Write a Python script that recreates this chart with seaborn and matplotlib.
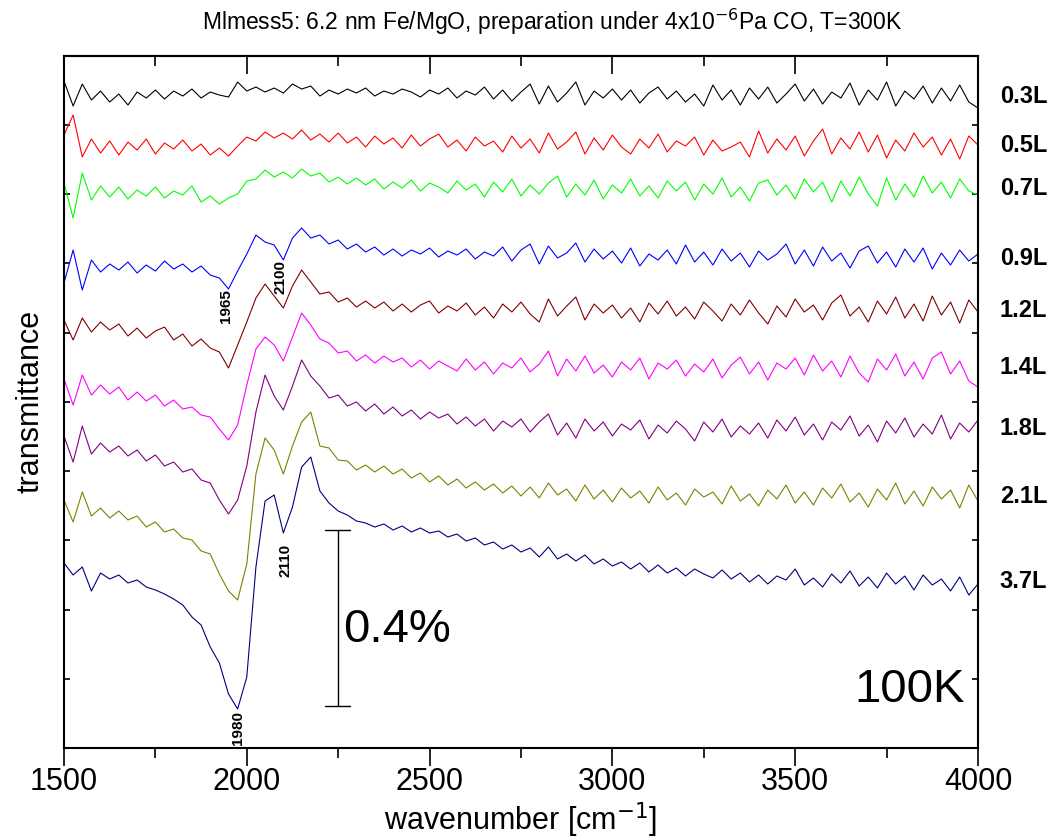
import numpy as np
import pandas as pd
import seaborn as sns
from matplotlib import pyplot as plt
from matplotlib import transforms

# wavenumber grid [cm-1], every 25 cm-1
wavenumber = np.arange(1500, 4001, 25)

doses = ['0.3L', '0.5L', '0.7L', '0.9L', '1.2L', '1.4L', '1.8L', '2.1L', '3.7L']
colors = ['#000000', '#ff0000', '#00ff00', '#0000ff', '#800000',
          '#ff00ff', '#800080', '#808000', '#000080']

# vertical offset of each trace (level at 4000 cm-1), arbitrary units
offsets = [652, 603, 560, 490, 438, 381, 320, 252, 167]
units_per_percent = 440

# deviation of each trace from its offset
dev_03 = [15, -10, 12, -4, 5, -6, 2, -9, 4, -2,
          6, -3, 5, 0, 7, -2, 4, 1, -1, 14,
          5, 9, 4, 8, 3, 12, 7, 10, 0, 6,
          2, 7, 3, 8, 0, 5, 2, 7, 4, -1,
          6, 2, 8, -2, 5, 1, 9, -3, 6, -5,
          4, 12, -8, 10, -6, 3, 14, -9, 5, -2,
          7, -4, 6, -7, 3, 9, -3, 5, -6, 2,
          -10, 11, -4, 6, -9, 8, -3, 9, -7, 2,
          12, -5, 7, -8, 4, -2, 13, -9, 6, -4,
          14, -10, 5, -3, 10, -7, 8, -5, 11, -6,
          -12]
dev_05 = [10, 30, -12, 6, -8, 4, -10, 3, -5, 6,
          -9, 2, -4, 5, -6, 1, -10, -3, -11, -1,
          8, 4, 13, 7, 12, 6, 15, 5, 11, 3,
          12, 2, 8, -2, 9, 1, 7, -3, 10, -1,
          6, 11, -2, 5, -6, 8, -1, 4, -7, 9,
          -3, 6, -8, 12, -4, 3, 13, -9, 7, -5,
          10, -2, -9, 6, -3, 11, -7, 4, -1, 8,
          -10, 5, -6, -2, 3, -12, 14, -8, 6, -5,
          9, -11, 4, 16, -9, 7, -4, 13, -7, 10,
          -13, 5, -6, 12, -2, 8, -10, 6, -14, 9,
          0]
dev_07 = [5, -30, 15, -12, 2, -9, 1, -11, -2, -8,
          1, -10, -3, -7, 2, -14, -8, -16, -10, -6,
          7, 9, 18, 11, 16, 10, 19, 12, 15, 6,
          11, 4, 10, 3, 9, -1, 6, 0, 8, -3,
          5, 1, -5, 7, -2, 4, -9, 6, -4, 9,
          -8, 3, -6, 5, 12, -9, 4, -7, 8, -11,
          3, -5, 9, -8, 2, -10, 7, -3, 6, -12,
          4, -6, 10, -9, 1, -13, 5, 8, -7, 3,
          -11, 9, -4, 6, -14, 7, -8, 11, -6, -18,
          10, -12, 4, -9, 12, -5, 6, -10, 9, -3,
          -7]
dev_09 = [-25, 8, -32, -2, -14, -6, -12, -4, -15, -7,
          -13, -3, -11, -6, -14, -8, -17, -20, -31, -13,
          4, 23, 16, 13, -2, 20, 30, 20, 23, 14,
          18, 9, 14, 6, 11, 3, 9, 2, 8, 4,
          10, 1, 7, 3, 9, -1, 6, 2, 11, -3,
          8, 14, -6, 12, 0, 5, 15, -4, 9, -1,
          7, -5, 10, -8, 4, -2, 8, -6, 13, -4,
          6, -7, 9, -3, 5, -9, 7, -2, 4, 14,
          -6, 8, -8, 11, -3, 5, -10, 7, 12, -5,
          6, -9, 9, -4, 10, -11, 5, -7, 8, -3,
          4]
dev_12 = [-10, -30, -8, -22, -12, -20, -14, -26, -18, -28,
          -21, -17, -30, -24, -36, -29, -38, -42, -58, -35,
          -12, 12, 26, 14, 2, 24, 40, 28, 16, 18,
          8, 12, 3, 9, 2, 8, -1, 6, -2, 5,
          9, -3, 4, -1, 7, -5, 3, -8, 6, -2,
          8, -4, -12, 11, -6, 4, 13, -10, 6, -3,
          5, -8, 2, -12, 7, -4, 9, -6, 3, -9,
          8, -1, -11, 6, -5, 10, -3, -14, 4, -7,
          11, -2, 5, -10, 7, 15, -6, 3, -12, 9,
          -4, 13, -8, 6, -11, 14, -5, 8, -13, 10,
          -2]
dev_14 = [-12, -38, -8, -28, -18, -27, -20, -33, -25, -34,
          -28, -39, -33, -42, -40, -48, -50, -62, -73, -58,
          -18, 18, 30, 22, 6, 30, 54, 42, 28, 24,
          14, 16, 6, 12, 4, 11, 5, 9, 0, 7,
          -2, 6, 1, -4, 8, -3, 5, -7, 4, -1,
          9, -5, 3, 16, -9, 8, -4, 11, -6, 2,
          -10, 5, -3, 9, -12, 4, -2, 7, -9, 3,
          -5, 8, -11, 2, 10, -7, 5, -13, 4, -2,
          9, -8, 12, -4, 6, -10, 11, -6, -15, 8,
          -3, 13, -9, 5, -12, 9, 15, -7, 6, -14,
          -20]
dev_18 = [-8, -34, 2, -26, -15, -24, -18, -28, -22, -33,
          -27, -38, -34, -44, -41, -52, -55, -72, -86, -72,
          -38, 16, 53, 32, 18, 42, 68, 52, 42, 30,
          33, 22, 26, 17, 24, 14, 21, 12, 18, 9,
          16, 10, 14, 4, 11, 2, 9, -3, 7, 1,
          9, -4, 6, 14, -7, 5, -10, 9, -3, 6,
          -8, 4, -2, 8, -11, 3, -5, 7, -1, -13,
          6, -4, 9, -9, 2, -6, 5, -10, 8, -3,
          11, -7, 4, -12, 6, -2, 12, -8, 3, -14,
          7, -5, 10, -9, 4, -6, 13, -11, 5, -4,
          8]
dev_21 = [-4, -26, 4, -20, -12, -22, -15, -24, -20, -31,
          -26, -36, -33, -42, -44, -55, -58, -78, -95, -104,
          -68, 22, 58, 46, 22, 50, 74, 84, 50, 48,
          36, 35, 26, 31, 24, 30, 22, 27, 18, 23,
          14, 20, 11, 17, 8, 14, 6, 12, 3, 10,
          0, 9, -2, 13, 1, 7, -5, 11, -3, 6,
          -6, 8, -2, 5, -7, 9, -4, 3, -9, 7,
          -1, 4, -8, 10, -5, 2, -10, 6, -3, 11,
          -7, 4, -9, 8, -2, 12, -6, 3, -11, 7,
          -4, 13, -8, 5, -10, 9, -3, 6, -12, 11,
          -5]
dev_37 = [18, 6, 14, -10, 8, 2, 6, -2, 1, -6,
          -9, -13, -18, -24, -36, -44, -66, -82, -113, -128,
          -96, 14, 80, 86, 48, 74, 114, 124, 90, 78,
          70, 66, 60, 58, 54, 57, 51, 55, 49, 53,
          48, 50, 44, 47, 40, 43, 36, 39, 32, 36,
          29, 33, 24, 34, 22, 27, 20, 26, 17, 22,
          15, 19, 12, 18, 9, 16, 8, 13, 5, 12,
          7, 3, 11, 2, 8, -1, 6, -3, 5, 1,
          12, -4, 3, -6, 7, -2, 10, -5, 4, -7,
          8, -3, 5, -9, 6, -4, 2, -10, 4, -14,
          -3]

deviations = [dev_03, dev_05, dev_07, dev_09, dev_12, dev_14, dev_18, dev_21, dev_37]

# peak labels: (text, wavenumber, level)
peak_text = ['1965', '2100', '2110', '1980']
peak_wn = [1943, 2091, 2107, 1976]
peak_level = [442, 471, 188, 20]

frames = []
for dose, off, dev in zip(doses, offsets, deviations):
    frames.append(pd.DataFrame({'wavenumber': wavenumber,
                                'signal': off + np.array(dev),
                                'dose': dose}))
df = pd.concat(frames, ignore_index=True)

sns.set_style('ticks')
plt.rcParams['font.family'] = ['Liberation Sans', 'DejaVu Sans']
plt.rcParams['text.color'] = 'black'
plt.rcParams['axes.labelcolor'] = 'black'
plt.rcParams['xtick.color'] = 'black'
plt.rcParams['ytick.color'] = 'black'

fig = plt.figure(figsize=(10.63, 8.38), dpi=100)
ax = fig.add_axes([0.0602, 0.1074, 0.8598, 0.8261])

sns.lineplot(data=df, x='wavenumber', y='signal', hue='dose', hue_order=doses,
             palette=colors, linewidth=0.8, estimator=None, legend=False, ax=ax)

ax.set_xlim(1500, 4000)
ax.set_ylim(0, 692.3)
ax.set_xticks([1500, 2000, 2500, 3000, 3500, 4000])
ax.set_xticks([1750, 2250, 2750, 3250, 3750], minor=True)
ax.set_yticks(np.linspace(0, 692.3, 11))
ax.set_yticklabels([])
ax.tick_params(axis='x', which='major', direction='out', length=13, width=1.2,
               labelsize=22, pad=1)
ax.tick_params(axis='x', which='minor', direction='out', length=7, width=1.2)
ax.tick_params(axis='y', direction='in', length=4, width=1.2, left=True, right=True)

top = ax.secondary_xaxis('top')
top.set_xticks([1500, 2000, 2500, 3000, 3500, 4000])
top.set_xticks([1750, 2250, 2750, 3250, 3750], minor=True)
top.tick_params(axis='x', which='major', direction='in', length=13, width=1.2, labeltop=False)
top.tick_params(axis='x', which='minor', direction='in', length=7, width=1.2)
top.spines['top'].set_linewidth(1.5)

for s in ax.spines.values():
    s.set_linewidth(1.5)
    s.set_color('black')

ax.set_xlabel('wavenumber [cm$^{-1}$]', fontsize=22, labelpad=2)
ax.set_ylabel('transmittance', fontsize=22, labelpad=10)

fig.text(0.519, 0.974,
         'Mlmess5: 6.2 nm Fe/MgO, preparation under 4x10$^{-6}$Pa CO, T=300K',
         fontsize=16.5, ha='center', va='center')

# dose labels on the right
trans = transforms.blended_transform_factory(ax.transAxes, ax.transData)
for dose, off in zip(doses, offsets):
    ax.text(1.024, off, dose, transform=trans, fontsize=17, fontweight='bold',
            va='center', ha='left')

# peak labels
for t, w, lv in zip(peak_text, peak_wn, peak_level):
    ax.text(w, lv, t, rotation=90, fontsize=11, fontweight='bold',
            ha='center', va='center')

# scale bar
bar_x = 2249
bar_lo = 42
bar_hi = bar_lo + 0.4 * units_per_percent
ax.plot([bar_x, bar_x], [bar_lo, bar_hi], color='black', lw=1)
ax.plot([bar_x - 35, bar_x + 33], [bar_lo, bar_lo], color='black', lw=1)
ax.plot([bar_x - 35, bar_x + 33], [bar_hi, bar_hi], color='black', lw=1)
ax.text(2263, 118, '0.4%', fontsize=34, ha='left', va='center')
ax.text(3964, 58, '100K', fontsize=34, ha='right', va='center')

fig.savefig('out.png', dpi=100)
